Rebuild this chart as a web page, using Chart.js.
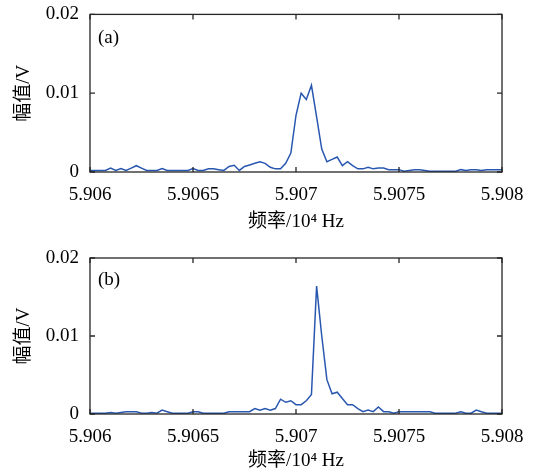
<!DOCTYPE html>
<html>
<head>
<meta charset="utf-8">
<script src="https://cdn.jsdelivr.net/npm/chart.js@4.4.0/dist/chart.umd.min.js"></script>
<style>
  body { margin: 0; background: #fff; }
  canvas { position: absolute; left: 0; }
</style>
</head>
<body>
<canvas id="chart-a" width="537" height="240" style="top:0"></canvas>
<canvas id="chart-b" width="537" height="233" style="top:240px"></canvas>
<script>
// frequency samples, in units of 10^4 Hz
const freq = [
  5.906, 5.906025, 5.90605, 5.906075, 5.9061, 5.906125, 5.90615, 5.906175,
  5.9062, 5.906225, 5.90625, 5.906275, 5.9063, 5.906325, 5.90635, 5.906375,
  5.9064, 5.906425, 5.90645, 5.906475, 5.9065, 5.906525, 5.90655, 5.906575,
  5.9066, 5.906625, 5.90665, 5.906675, 5.9067, 5.906725, 5.90675, 5.906775,
  5.9068, 5.906825, 5.90685, 5.906875, 5.9069, 5.906925, 5.90695, 5.906975,
  5.907, 5.907025, 5.90705, 5.907075, 5.9071, 5.907125, 5.90715, 5.907175,
  5.9072, 5.907225, 5.90725, 5.907275, 5.9073, 5.907325, 5.90735, 5.907375,
  5.9074, 5.907425, 5.90745, 5.907475, 5.9075, 5.907525, 5.90755, 5.907575,
  5.9076, 5.907625, 5.90765, 5.907675, 5.9077, 5.907725, 5.90775, 5.907775,
  5.9078, 5.907825, 5.90785, 5.907875, 5.9079, 5.907925, 5.90795, 5.907975,
  5.908
];

// amplitude (V), panel (a)
const ampA = [
  0.0002, 0.0002, 0.0002, 0.0002, 0.0005, 0.0002, 0.00045, 0.0002,
  0.0005, 0.0008, 0.0005, 0.0002, 0.0002, 0.0002, 0.00045, 0.0002,
  0.0002, 0.0002, 0.0002, 0.0002, 0.00045, 0.0002, 0.0002, 0.0004,
  0.0004, 0.0003, 0.0002, 0.0007, 0.00085, 0.0002, 0.0007, 0.0009,
  0.0011, 0.0013, 0.0011, 0.0006, 0.0004, 0.0004, 0.0011, 0.0024,
  0.0072, 0.0100, 0.0092, 0.0110, 0.0070, 0.0029, 0.0013, 0.0016,
  0.0019, 0.0008, 0.0013, 0.0008, 0.0004, 0.0004, 0.0006, 0.0004,
  0.0005, 0.0005, 0.0003, 0.0003, 0.0003, 0.0001, 0.0002, 0.0003,
  0.0003, 0.0002, 0.0001, 0.0001, 0.0001, 0.0001, 0.0001, 0.0001,
  0.0003, 0.0002, 0.0003, 0.0003, 0.0002, 0.0003, 0.0003, 0.0003,
  0.0003
];

// amplitude (V), panel (b)
const ampB = [
  0.0001, 0.0001, 0.0001, 0.0001, 0.0002, 0.0001, 0.0002, 0.0003,
  0.0003, 0.0003, 0.0001, 0.0001, 0.0002, 0.0001, 0.0005, 0.0003,
  0.0001, 0.0001, 0.0001, 0.0001, 0.0003, 0.0003, 0.0001, 0.0001,
  0.0001, 0.0001, 0.0001, 0.0003, 0.0003, 0.0003, 0.0003, 0.0003,
  0.0007, 0.0005, 0.0007, 0.0005, 0.0007, 0.0019, 0.0015, 0.0017,
  0.0012, 0.0012, 0.0017, 0.0025, 0.0164, 0.0100, 0.0044, 0.0026,
  0.0028, 0.0020, 0.0012, 0.0012, 0.0007, 0.0003, 0.0005, 0.0003,
  0.0009, 0.0003, 0.0003, 0.0001, 0.0003, 0.0003, 0.0003, 0.0003,
  0.0003, 0.0003, 0.0003, 0.0001, 0.0001, 0.0001, 0.0001, 0.0001,
  0.0003, 0.0001, 0.0001, 0.0005, 0.0003, 0.0001, 0.0001, 0.0001,
  0.0001
];

const xTicks = [5.906, 5.9065, 5.907, 5.9075, 5.908];
const xTickLabels = ['5.906', '5.9065', '5.907', '5.9075', '5.908'];
const yTicks = [0, 0.01, 0.02];
const yTickLabels = ['0', '0.01', '0.02'];

const FONT = { family: '"Liberation Serif", "Noto Sans CJK SC", serif', size: 19 };
const INK = '#000';

// box round the plot, inward ticks on all four sides, panel letter
const framePlugin = {
  id: 'frame',
  afterDatasetsDraw(chart, args, opts) {
    const { ctx, chartArea: a, scales: { x, y } } = chart;
    ctx.save();
    ctx.strokeStyle = '#262626';
    ctx.lineWidth = 1.3;
    ctx.strokeRect(a.left, a.top, a.right - a.left, a.bottom - a.top);
    ctx.beginPath();
    xTicks.forEach(v => {
      let px = x.getPixelForValue(v);
      ctx.moveTo(px, a.bottom); ctx.lineTo(px, a.bottom - 5);
      ctx.moveTo(px, a.top); ctx.lineTo(px, a.top + 5);
    });
    yTicks.forEach(v => {
      let py = y.getPixelForValue(v);
      ctx.moveTo(a.left, py); ctx.lineTo(a.left + 5, py);
      ctx.moveTo(a.right, py); ctx.lineTo(a.right - 5, py);
    });
    ctx.stroke();
    ctx.fillStyle = INK;
    ctx.font = FONT.size + 'px ' + FONT.family;
    ctx.textBaseline = 'middle';
    ctx.fillText(opts.label, a.left + 8, a.top + opts.labelY);
    ctx.restore();
  }
};

function makeChart(id, values, cfg) {
  let points = freq.map((f, i) => ({ x: f, y: values[i] }));
  return new Chart(document.getElementById(id), {
    type: 'line',
    data: {
      datasets: [{
        data: points,
        borderColor: '#2957b0',
        borderWidth: 1.5,
        pointRadius: 0,
        tension: 0,
        fill: false
      }]
    },
    options: {
      responsive: false,
      animation: false,
      layout: { padding: { top: cfg.top, right: 35, left: 0, bottom: 0 } },
      plugins: {
        legend: { display: false },
        tooltip: { enabled: false },
        frame: { label: cfg.label, labelY: cfg.labelY }
      },
      scales: {
        x: {
          type: 'linear',
          min: 5.906,
          max: 5.908,
          grid: { display: false },
          border: { display: false },
          afterBuildTicks: s => { s.ticks = xTicks.map(v => ({ value: v })); },
          afterFit: s => { s.height = cfg.xHeight; },
          ticks: {
            font: FONT, color: INK, padding: 4, maxRotation: 0, autoSkip: false,
            callback: v => xTickLabels[xTicks.indexOf(v)]
          },
          title: {
            display: true, text: '频率/10⁴ Hz', font: FONT, color: INK,
            padding: { top: 0, bottom: cfg.titlePad }
          }
        },
        y: {
          min: 0,
          max: 0.02,
          grid: { display: false },
          border: { display: false },
          afterBuildTicks: s => { s.ticks = yTicks.map(v => ({ value: v })); },
          afterFit: s => { s.width = 90; },
          ticks: {
            font: FONT, color: INK, padding: 3,
            callback: v => yTickLabels[yTicks.indexOf(v)]
          },
          title: {
            display: true, text: '幅值/V', font: FONT, color: INK,
            padding: { top: 13, bottom: 0 }
          }
        }
      }
    },
    plugins: [framePlugin]
  });
}

makeChart('chart-a', ampA, { label: '(a)', labelY: 24, top: 14, xHeight: 68, titlePad: 7 });
makeChart('chart-b', ampB, { label: '(b)', labelY: 22, top: 18, xHeight: 59, titlePad: 1 });
</script>
</body>
</html>
